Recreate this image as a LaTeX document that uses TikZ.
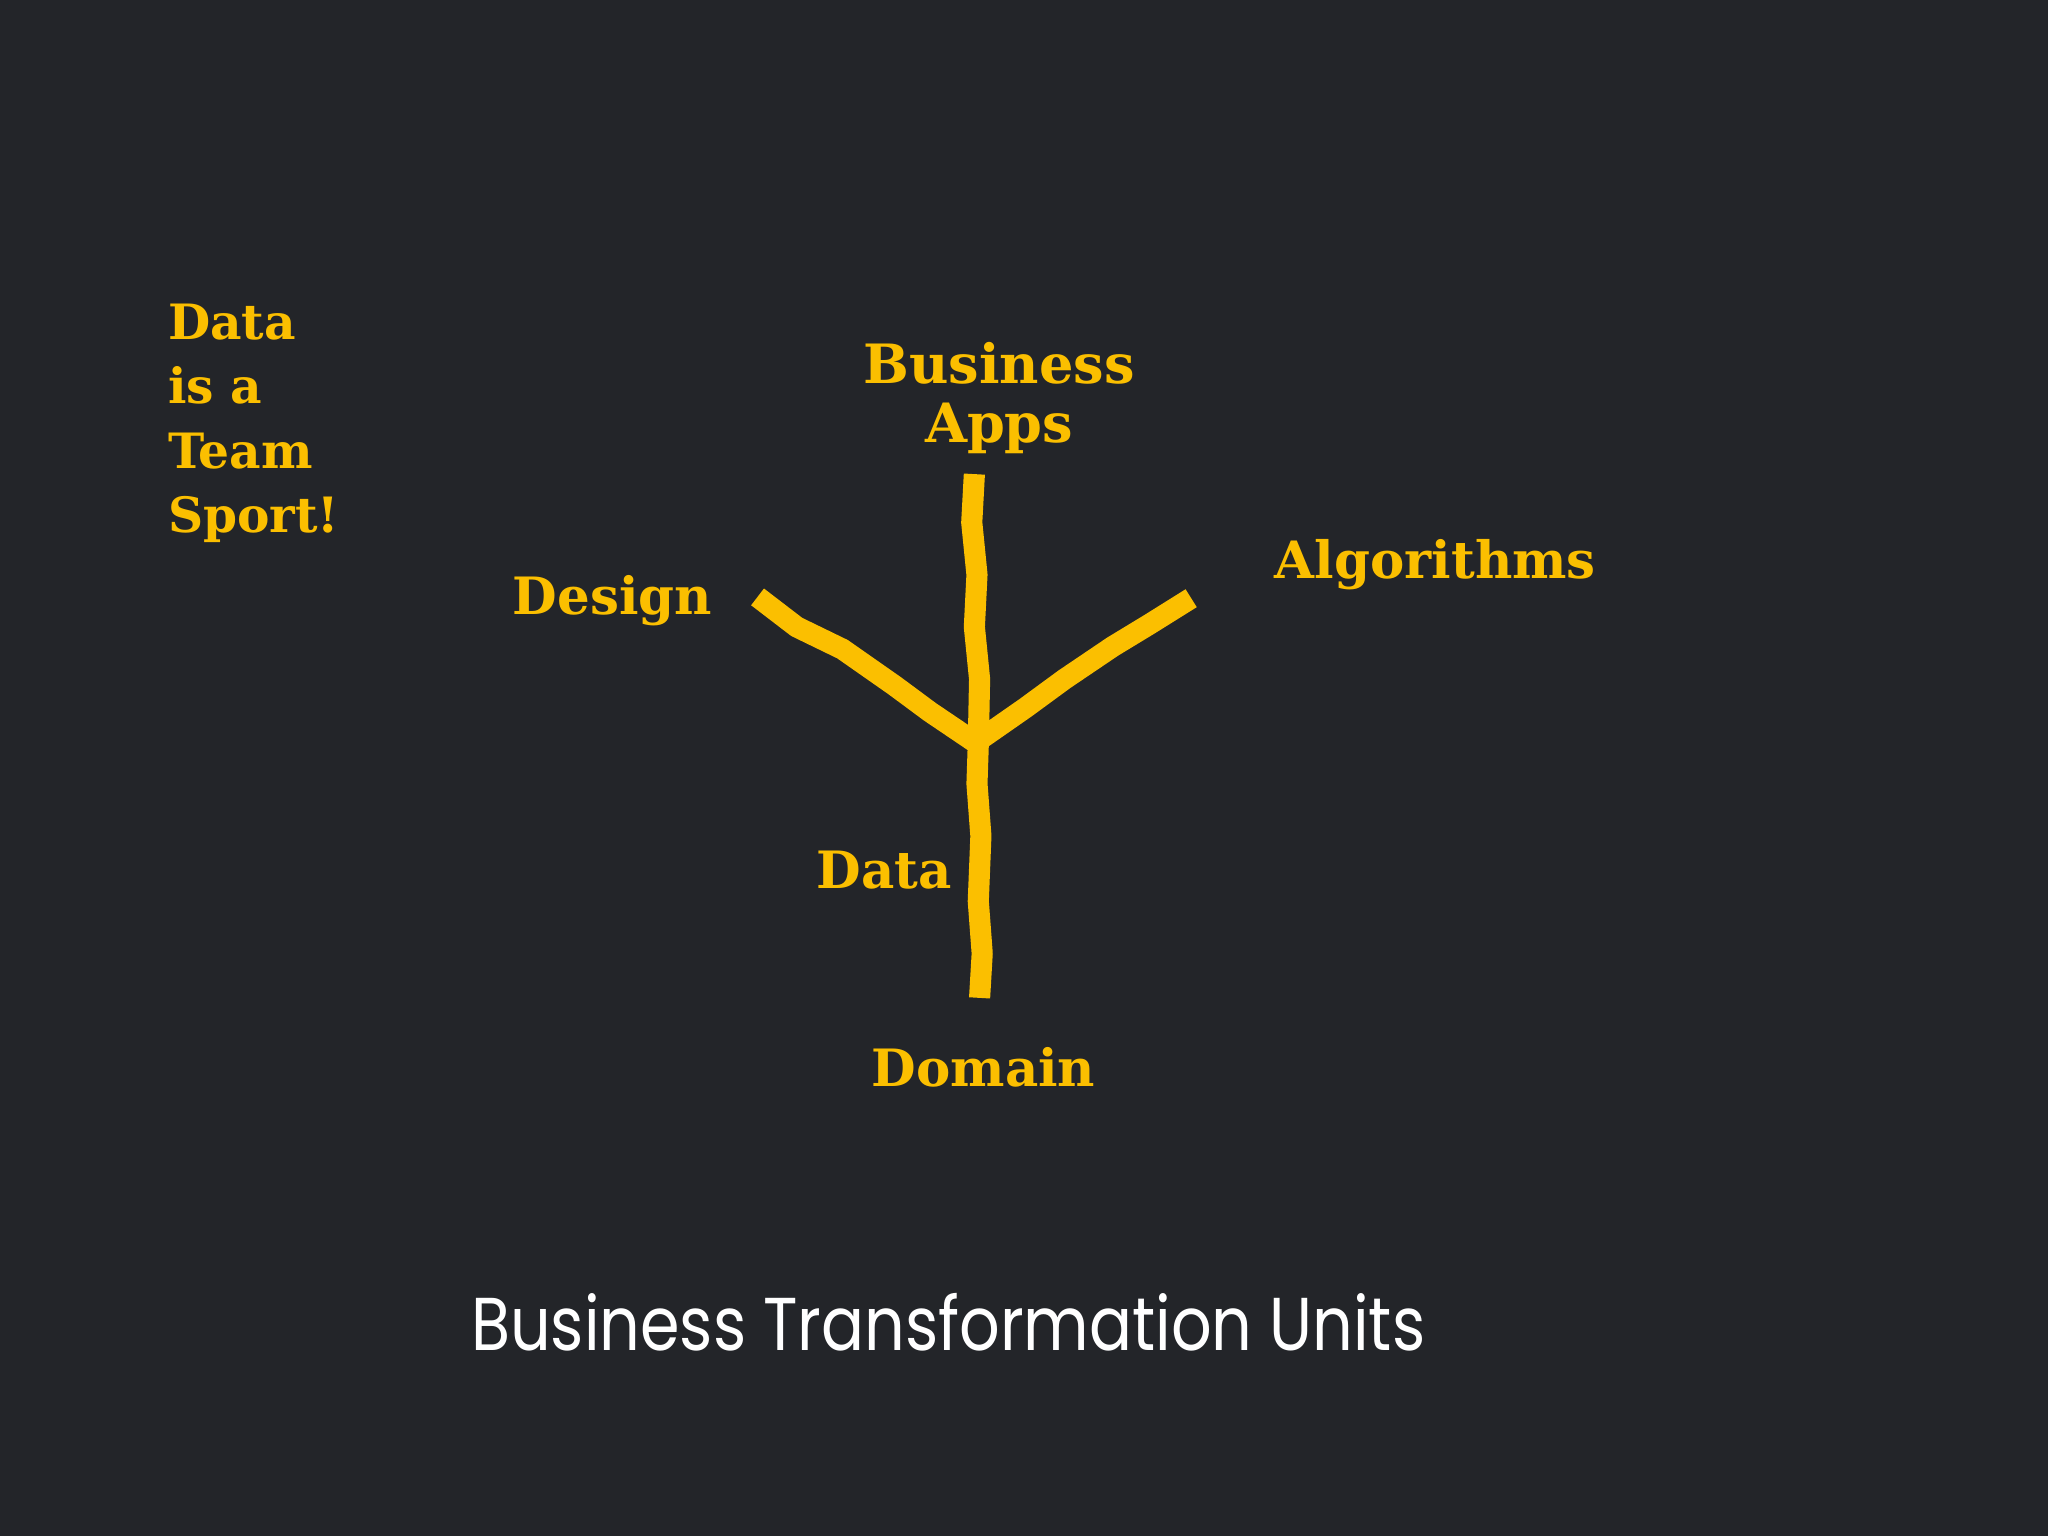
\documentclass[tikz,border=0pt]{standalone}
\usepackage{fontspec}
\newfontfamily\hand{DejaVu Serif}
\newfontfamily\titlef[FakeStretch=0.85]{Poppins}
\definecolor{bg}{HTML}{232529}
\definecolor{yel}{HTML}{FBBF00}
\begin{document}
\begin{tikzpicture}[x=0.01cm,y=-0.01cm]
\tikzset{lbl/.style={text=yel,font=\hand\bfseries\fontsize{11.2}{14}\selectfont,inner sep=0pt},
 stroke/.style={draw=yel,line width=4.6pt,line cap=butt,line join=round}}
\fill[bg] (0,0) rectangle (1568,1176);
\useasboundingbox (0,0) rectangle (1568,1176);
\node[lbl,align=left,anchor=north west,font=\hand\bfseries\fontsize{10.6}{14}\selectfont] (team) at (128,232) {Data\\is a\\Team\\Sport!};
\node[lbl,align=center,font=\hand\bfseries\fontsize{11.8}{12.8}\selectfont] (ba) at (765,305) {Business\\Apps};
\node[lbl] (alg) at (1099,432) {Algorithms};
\node[lbl] (des) at (469,460) {Design};
\node[lbl] (data) at (677,666) {Data};
\node[lbl] (dom) at (753,817) {Domain};
\node[text=white,font=\titlef\fontsize{16.3}{20}\selectfont,inner sep=0pt] (title) at (726,1012) {Business Transformation Units};
\coordinate (top) at (746,363);
\coordinate (hub) at (749,570);
\coordinate (bot) at (750,764);
\coordinate (l) at (580,457);
\coordinate (r) at (912,458);
\draw[stroke] (top) -- (744,400) -- (748,440) -- (746,480) -- (750,520) -- (hub) -- (748,600) -- (751,640) -- (749,690) -- (752,730) -- (bot);
\draw[stroke] (l) -- (610,480) -- (645,497) -- (685,525) -- (712,545) -- (hub);
\draw[stroke] (r) -- (880,478) -- (852,495) -- (815,520) -- (785,542) -- (752,565);
\end{tikzpicture}
\end{document}
